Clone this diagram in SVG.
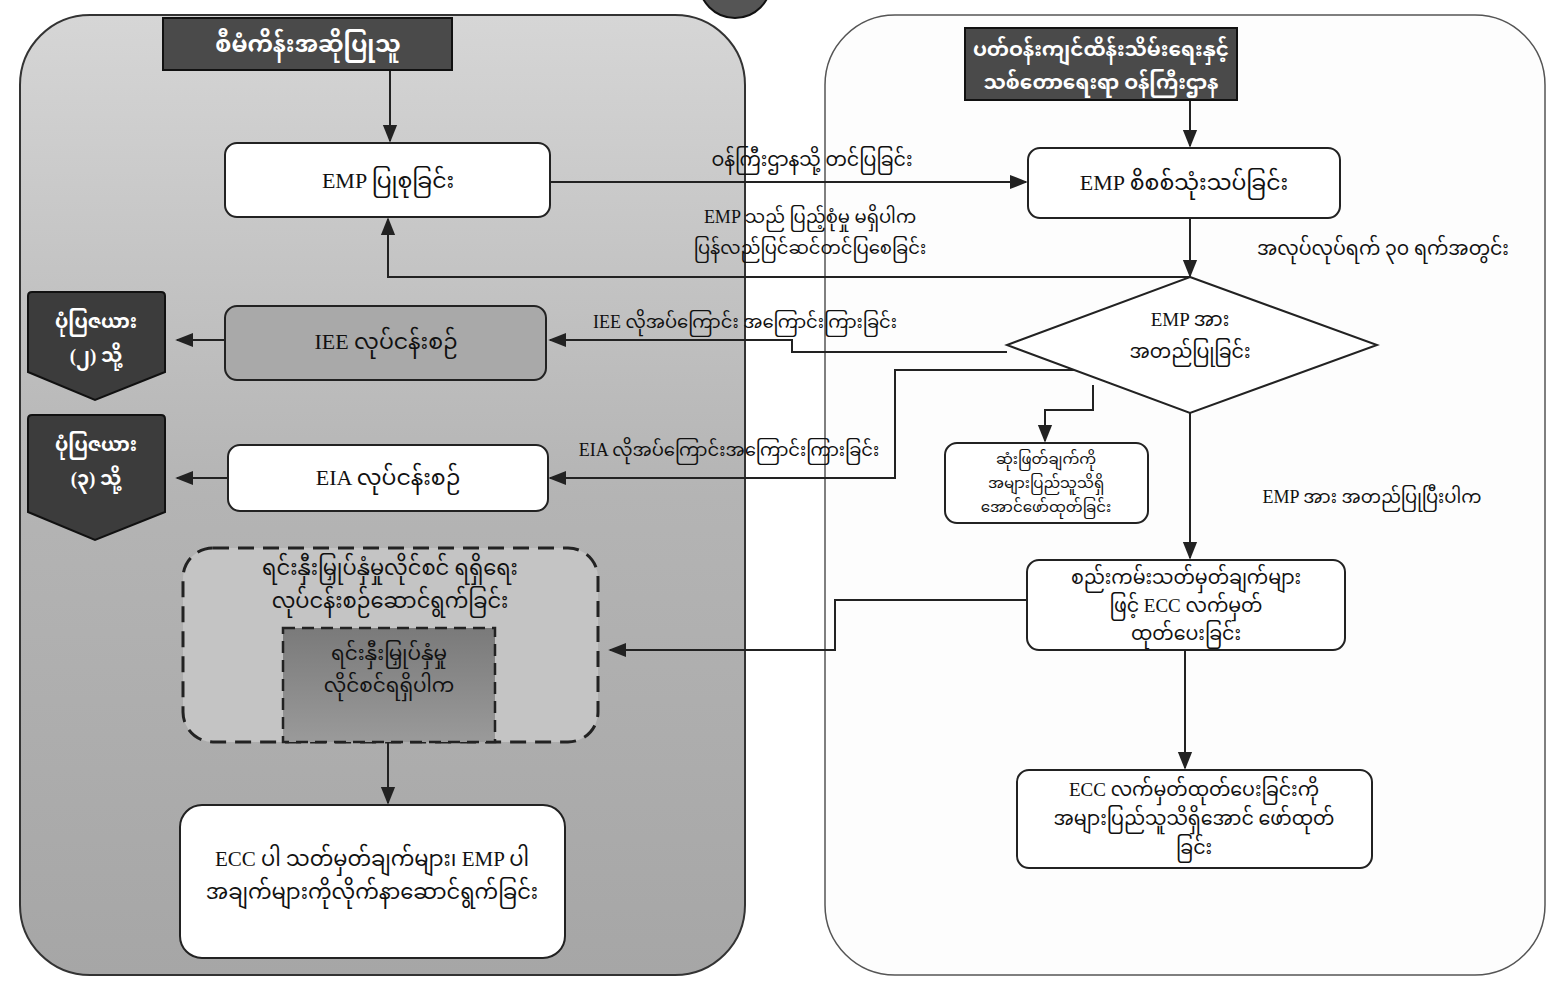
<svg xmlns="http://www.w3.org/2000/svg" width="1559" height="983" viewBox="0 0 1559 983">
<style>
.t{font-family:"Liberation Serif","Noto Sans Myanmar","Padauk","Myanmar Text",serif;fill:#111;text-anchor:middle}
.w{fill:#fff;font-weight:bold}
.box{fill:#fff;stroke:#222;stroke-width:2}
.ln{fill:none;stroke:#222;stroke-width:2}
.hd{fill:#4a4a4a;stroke:#111;stroke-width:2}
</style>
<defs>
<marker id="ah" viewBox="0 0 10 10" refX="9" refY="5" markerWidth="9" markerHeight="9" orient="auto-start-reverse"><path d="M0,1 L10,5 L0,9 z" fill="#222"/></marker>
<linearGradient id="lg" x1="0" y1="0" x2="0" y2="1"><stop offset="0" stop-color="#d6d6d6"/><stop offset="0.5" stop-color="#b4b4b4"/><stop offset="1" stop-color="#a6a6a6"/></linearGradient>
<linearGradient id="ig" x1="0" y1="0" x2="0" y2="1"><stop offset="0" stop-color="#7a7a7a"/><stop offset="1" stop-color="#9a9a9a"/></linearGradient>
</defs>
<rect width="1559" height="983" fill="#fff"/>
<g id="left-panel"><rect x="20" y="15" width="725" height="960" rx="70" fill="url(#lg)" stroke="#333" stroke-width="2"/></g>
<g id="right-panel"><rect x="825" y="15" width="720" height="960" rx="70" fill="#fdfdfd" stroke="#555" stroke-width="1.5"/></g>
<g id="badge"><circle cx="735" cy="-18" r="36" fill="#555" stroke="#111" stroke-width="2"/></g>

<g id="connectors">
<path class="ln" d="M390,70 V141" marker-end="url(#ah)"/>
<path class="ln" d="M550,182 H1026" marker-end="url(#ah)"/>
<path class="ln" d="M1190,100 V146" marker-end="url(#ah)"/>
<path class="ln" d="M1190,218 V276" marker-end="url(#ah)"/>
<path class="ln" d="M1190,277 H388 V219" marker-end="url(#ah)"/>
<path class="ln" d="M1007,352 H792 V340 H550" marker-end="url(#ah)"/>
<path class="ln" d="M225,340 H177" marker-end="url(#ah)"/>
<path class="ln" d="M1075,370 H895 V478 H550" marker-end="url(#ah)"/>
<path class="ln" d="M228,478 H177" marker-end="url(#ah)"/>
<path class="ln" d="M1093,385 V410 H1045 V441" marker-end="url(#ah)"/>
<path class="ln" d="M1190,413 V558" marker-end="url(#ah)"/>
<path class="ln" d="M1027,600 H835 V650 H610" marker-end="url(#ah)"/>
<path class="ln" d="M1185,650 V768" marker-end="url(#ah)"/>
<path class="ln" d="M388,742 V803" marker-end="url(#ah)"/>
</g>

<g id="hdr-left"><rect class="hd" x="163" y="18" width="289" height="52"/><text class="t w" x="308" y="52" font-size="23">စီမံကိန်းအဆိုပြုသူ</text></g>
<g id="hdr-right"><rect class="hd" x="965" y="28" width="272" height="72"/><text class="t w" x="1101" y="56" font-size="20">ပတ်ဝန်းကျင်ထိန်းသိမ်းရေးနှင့်</text><text class="t w" x="1101" y="89" font-size="20">သစ်တောရေးရာ ဝန်ကြီးဌာန</text></g>

<g id="n-emp-prep"><rect class="box" x="225" y="143" width="325" height="74" rx="12"/><text class="t" x="388" y="188" font-size="22">EMP ပြုစုခြင်း</text></g>
<g id="n-emp-review"><rect class="box" x="1028" y="148" width="312" height="70" rx="12"/><text class="t" x="1184" y="190" font-size="22">EMP  စိစစ်သုံးသပ်ခြင်း</text></g>
<g id="n-decision"><path class="box" d="M1190,277 L1377,345 L1190,413 L1007,345 Z"/><text class="t" x="1190" y="326" font-size="19">EMP အား</text><text class="t" x="1190" y="358" font-size="19">အတည်ပြုခြင်း</text></g>
<g id="n-iee"><rect x="225" y="306" width="321" height="74" rx="12" fill="#a9a9a9" stroke="#222" stroke-width="2"/><text class="t" x="386" y="349" font-size="22">IEE လုပ်ငန်းစဉ်</text></g>
<g id="n-eia"><rect class="box" x="228" y="445" width="320" height="66" rx="12" fill="#eee"/><text class="t" x="388" y="485" font-size="22">EIA လုပ်ငန်းစဉ်</text></g>
<g id="n-fig2"><path d="M28,296 Q28,292 32,292 H161 Q165,292 165,296 V372 L95,400 L28,372 Z" fill="#3c3c3c" stroke="#111" stroke-width="2"/><text class="t w" x="96" y="328" font-size="19">ပုံပြဇယား</text><text class="t w" x="96" y="362" font-size="19">(၂) သို့</text></g>
<g id="n-fig3"><path d="M28,419 Q28,415 32,415 H161 Q165,415 165,419 V512 L95,540 L28,512 Z" fill="#3c3c3c" stroke="#111" stroke-width="2"/><text class="t w" x="96" y="451" font-size="19">ပုံပြဇယား</text><text class="t w" x="96" y="485" font-size="19">(၃) သို့</text></g>
<g id="n-publish-decision"><rect class="box" x="945" y="443" width="203" height="80" rx="12"/><text class="t" x="1046" y="464" font-size="15">ဆုံးဖြတ်ချက်ကို</text><text class="t" x="1046" y="488" font-size="15">အများပြည်သူသိရှိ</text><text class="t" x="1046" y="512" font-size="15">အောင်ဖော်ထုတ်ခြင်း</text></g>
<g id="n-ecc"><rect class="box" x="1027" y="560" width="318" height="90" rx="12"/><text class="t" x="1186" y="584" font-size="19">စည်းကမ်းသတ်မှတ်ချက်များ</text><text class="t" x="1186" y="612" font-size="19">ဖြင့် ECC လက်မှတ်</text><text class="t" x="1186" y="640" font-size="19">ထုတ်ပေးခြင်း</text></g>
<g id="n-ecc-publish"><rect class="box" x="1017" y="770" width="355" height="98" rx="12"/><text class="t" x="1194" y="796" font-size="19">ECC လက်မှတ်ထုတ်ပေးခြင်းကို</text><text class="t" x="1194" y="825" font-size="19">အများပြည်သူသိရှိအောင် ဖော်ထုတ်</text><text class="t" x="1194" y="854" font-size="19">ခြင်း</text></g>
<g id="n-license"><rect x="183" y="548" width="415" height="194" rx="30" fill="#c4c4c4" stroke="#222" stroke-width="3" stroke-dasharray="16,9"/><text class="t" x="390" y="575" font-size="21">ရင်းနှီးမြှုပ်နှံမှုလိုင်စင် ရရှိရေး</text><text class="t" x="390" y="608" font-size="21">လုပ်ငန်းစဉ်ဆောင်ရွက်ခြင်း</text>
<rect x="283" y="628" width="212" height="114" fill="url(#ig)" stroke="#222" stroke-width="2.5" stroke-dasharray="12,7"/><text class="t" x="389" y="660" font-size="20">ရင်းနှီးမြှုပ်နှံမှု</text><text class="t" x="389" y="692" font-size="20">လိုင်စင်ရရှိပါက</text></g>
<g id="n-comply"><rect class="box" x="180" y="805" width="385" height="153" rx="22"/><text class="t" x="372" y="866" font-size="21">ECC ပါ သတ်မှတ်ချက်များ၊ EMP ပါ</text><text class="t" x="372" y="899" font-size="21">အချက်များကိုလိုက်နာဆောင်ရွက်ခြင်း</text></g>

<g id="labels">
<text class="t" x="812" y="166" font-size="19">ဝန်ကြီးဌာနသို့ တင်ပြခြင်း</text>
<text class="t" x="810" y="223" font-size="18">EMP သည် ပြည့်စုံမှု မရှိပါက</text>
<text class="t" x="810" y="254" font-size="18">ပြန်လည်ပြင်ဆင်တင်ပြစေခြင်း</text>
<text class="t" x="1383" y="255" font-size="19">အလုပ်လုပ်ရက် ၃၀ ရက်အတွင်း</text>
<text class="t" x="745" y="328" font-size="18">IEE  လိုအပ်ကြောင်း အကြောင်းကြားခြင်း</text>
<text class="t" x="729" y="456" font-size="18">EIA  လိုအပ်ကြောင်းအကြောင်းကြားခြင်း</text>
<text class="t" x="1372" y="503" font-size="18">EMP အား အတည်ပြုပြီးပါက</text>
</g>
</svg>
